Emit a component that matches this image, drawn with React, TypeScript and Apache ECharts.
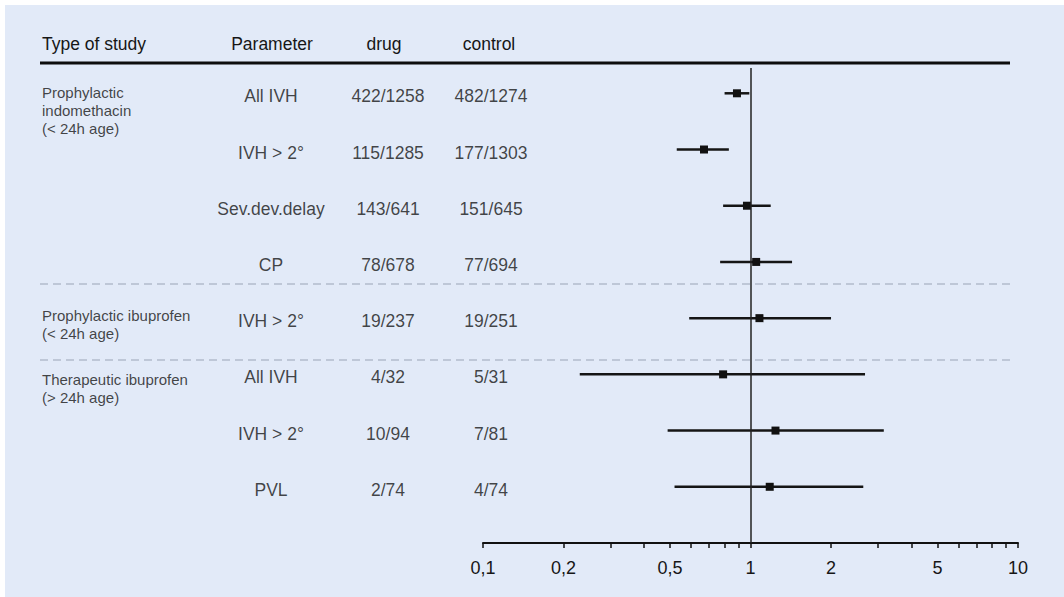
import React, { useEffect, useRef } from "react";
import * as echarts from "echarts";

// ---- data ----
const parameters = ["All IVH", "IVH > 2°", "Sev.dev.delay", "CP", "IVH > 2°", "All IVH", "IVH > 2°", "PVL"];
const drugCounts = ["422/1258", "115/1285", "143/641", "78/678", "19/237", "4/32", "10/94", "2/74"];
const controlCounts = ["482/1274", "177/1303", "151/645", "77/694", "19/251", "5/31", "7/81", "4/74"];
const estimate = [0.89, 0.67, 0.97, 1.05, 1.08, 0.79, 1.24, 1.18];
const lower = [0.8, 0.53, 0.79, 0.77, 0.59, 0.23, 0.49, 0.52];
const upper = [0.99, 0.83, 1.19, 1.43, 2.0, 2.68, 3.15, 2.64];
const studyTypes = ["Prophylactic\nindomethacin\n(< 24h age)", "Prophylactic ibuprofen\n(< 24h age)", "Therapeutic ibuprofen\n(> 24h age)"];
const studyRows = [0, 4, 5];
const headers = ["Type of study", "Parameter", "drug", "control"];
const tickValues = [0.1, 0.2, 0.3, 0.4, 0.5, 0.6, 0.7, 0.8, 0.9, 1, 2, 3, 4, 5, 6, 7, 8, 9, 10];
const labelValues = [0.1, 0.2, 0.5, 1, 2, 5, 10];

// ---- layout/style ----
const FONT = "'Liberation Sans', Arial, Helvetica, sans-serif";
const TEXT = "#161616";
const studyOffsets = [17, 6, 14];
const colX = { study: 42, param: 271, drug: 388, control: 491 };
const headerX = [42, 272, 384, 489];
const TABLE_W = 600;

const lg = (v: number) => Math.log10(v);
const fmt = (v: number) => {
  const r = Number(Math.pow(10, v).toFixed(2));
  return String(r).replace(".", ",");
};

export default function App() {
  const ref = useRef<HTMLDivElement>(null);
  useEffect(() => {
    if (!ref.current) return;
    const chart = echarts.init(ref.current, undefined, { renderer: "svg" });

    const ciData = estimate.map((e, i) => [lg(lower[i]), lg(upper[i]), i, lg(e)]);

    const textSeries = (x: number, texts: string[], offY: number) => ({
      type: "scatter",
      xAxisIndex: 1,
      yAxisIndex: 1,
      symbolSize: 0,
      silent: true,
      data: texts.map((t, i) => ({ value: [x, i], name: t })),
      label: {
        show: true,
        position: "inside",
        formatter: (p: any) => p.name,
        color: TEXT,
        fontSize: 17.5,
        fontFamily: FONT,
        offset: [0, offY],
      },
    });

    const headerGraphics = headers.map((h, i) => ({
      type: "text",
      x: headerX[i],
      y: 44,
      silent: true,
      style: {
        text: h,
        fill: TEXT,
        fontSize: 17.5,
        fontFamily: FONT,
        textAlign: i === 0 ? "left" : "center",
        align: i === 0 ? "left" : "center",
        textVerticalAlign: "middle",
        verticalAlign: "middle",
      },
    }));

    chart.setOption({
      animation: false,
      backgroundColor: "#e2eaf8",
      graphic: [
        { type: "rect", shape: { x: 0, y: 0, width: 1064, height: 5 }, style: { fill: "#ffffff" }, silent: true },
        { type: "rect", shape: { x: 0, y: 0, width: 5, height: 597 }, style: { fill: "#ffffff" }, silent: true },
        ...headerGraphics,
        { type: "line", shape: { x1: 40, y1: 63, x2: 1010, y2: 63 }, style: { stroke: "#0d0d0d", lineWidth: 3 }, silent: true },
        { type: "line", shape: { x1: 40, y1: 284, x2: 1010, y2: 284 }, style: { stroke: "#b3bccb", lineWidth: 1.5, lineDash: [8, 5] }, silent: true },
        { type: "line", shape: { x1: 40, y1: 360, x2: 1010, y2: 360 }, style: { stroke: "#b3bccb", lineWidth: 1.5, lineDash: [8, 5] }, silent: true },
      ],
      grid: [
        { left: 483, right: 46, top: 68, bottom: 54 },
        { left: 0, width: TABLE_W, top: 68, bottom: 54 },
      ],
      xAxis: [
        {
          type: "value",
          min: -1,
          max: 1,
          splitLine: { show: false },
          axisLine: { show: true, onZero: false, lineStyle: { color: "#111", width: 2 } },
          axisTick: {
            show: true,
            inside: false,
            length: 5,
            customValues: tickValues.map(lg),
            lineStyle: { color: "#111", width: 1.5 },
          },
          axisLabel: {
            show: true,
            customValues: labelValues.map(lg),
            formatter: (v: number) => fmt(v),
            color: TEXT,
            fontSize: 18,
            fontFamily: FONT,
            margin: 16,
          },
        },
        { type: "value", gridIndex: 1, min: 0, max: TABLE_W, show: false },
      ],
      yAxis: [
        { type: "value", inverse: true, min: -0.45, max: 8, show: false },
        { type: "value", gridIndex: 1, inverse: true, min: -0.45, max: 8, show: false },
      ],
      series: [
        {
          type: "custom",
          silent: true,
          data: ciData,
          encode: { x: [0, 1, 3], y: 2 },
          renderItem: (params: any, api: any) => {
            const y = api.value(2);
            const p1 = api.coord([api.value(0), y]);
            const p2 = api.coord([api.value(1), y]);
            const pc = api.coord([api.value(3), y]);
            const s = 8;
            return {
              type: "group",
              children: [
                {
                  type: "line",
                  shape: { x1: p1[0], y1: p1[1], x2: p2[0], y2: p2[1] },
                  style: { stroke: "#151515", lineWidth: 2.5 },
                },
                {
                  type: "rect",
                  shape: { x: pc[0] - s / 2, y: pc[1] - s / 2, width: s, height: s },
                  style: { fill: "#111111" },
                },
              ],
            };
          },
          markLine: {
            silent: true,
            symbol: "none",
            label: { show: false },
            lineStyle: { color: "#222", width: 1.5, type: "solid" },
            data: [{ xAxis: 0 }],
          },
        },
        textSeries(colX.param, parameters, 3),
        textSeries(colX.drug, drugCounts, 3),
        textSeries(colX.control, controlCounts, 3),
        {
          type: "scatter",
          xAxisIndex: 1,
          yAxisIndex: 1,
          symbolSize: 0,
          silent: true,
          data: studyTypes.map((t, i) => ({
            value: [colX.study, studyRows[i]],
            name: t,
            label: { offset: [0, studyOffsets[i]] },
          })),
          label: {
            show: true,
            position: "right",
            distance: 0,
            align: "left",
            formatter: (p: any) => p.name,
            color: TEXT,
            fontSize: 15,
            lineHeight: 18,
            fontFamily: FONT,
          },
        },
      ],
    });
    return () => chart.dispose();
  }, []);

  return (
    <div
      ref={ref}
      style={{ position: "fixed", left: 0, top: 0, width: 1064, height: 597 }}
    />
  );
}
